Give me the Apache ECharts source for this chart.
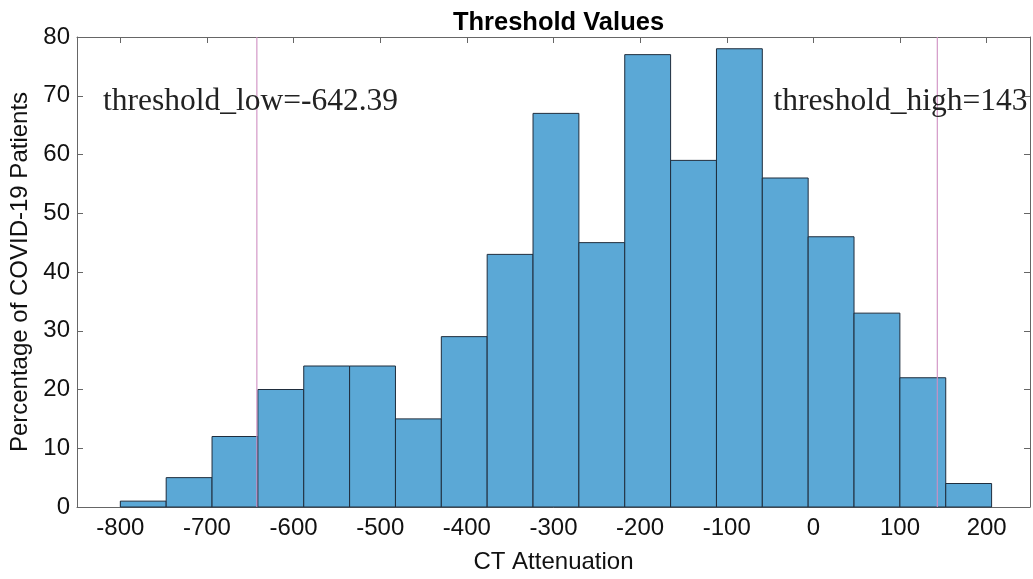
<!DOCTYPE html>
<html><head><meta charset="utf-8">
<script src="https://cdn.jsdelivr.net/npm/echarts@6/dist/echarts.min.js"></script>
<style>html,body{margin:0;padding:0;background:#fff}#c{width:1033px;height:579px}</style>
</head><body><div id="c"></div>
<script>
// Data
const binStart = -800;
const binWidth = 52.93;
const counts = [1, 5, 12, 20, 24, 24, 15, 29, 43, 67, 45, 77, 59, 78, 56, 46, 33, 22, 4];
const xTicks = [-800, -700, -600, -500, -400, -300, -200, -100, 0, 100, 200];
const yTicks = [0, 10, 20, 30, 40, 50, 60, 70, 80];
const thresholds = [-642.39, 143];
const labelLow = 'threshold_low=-642.39';
const labelHigh = 'threshold_high=143';

const bins = counts.map((c, i) => [binStart + i * binWidth, binStart + (i + 1) * binWidth, c]);

const chart = echarts.init(document.getElementById('c'));
const axisColor = '#666';
const font = 'Liberation Sans, Arial, sans-serif';
const xCommon = {
  type: 'value', min: -850, max: 250,
  axisLine: { show: true, onZero: false, lineStyle: { color: axisColor, width: 1 } },
  axisTick: { show: true, inside: true, length: 6, customValues: xTicks, lineStyle: { color: axisColor } },
  splitLine: { show: false }
};
const yCommon = {
  type: 'value', min: 0, max: 80, interval: 10,
  axisLine: { show: true, onZero: false, lineStyle: { color: axisColor, width: 1 } },
  axisTick: { show: true, inside: true, length: 6, lineStyle: { color: axisColor } },
  splitLine: { show: false }
};
chart.setOption({
  animation: false,
  title: {
    text: 'Threshold Values', left: 553.5, textAlign: 'center', top: 5,
    textStyle: { fontFamily: font, fontWeight: 'bold', fontSize: 25.5, color: '#000' }
  },
  grid: { left: 77, right: 3, top: 37, bottom: 71, containLabel: false },
  xAxis: [
    Object.assign({}, xCommon, {
      position: 'bottom',
      axisLabel: { show: true, customValues: xTicks, fontFamily: font, fontSize: 24, color: '#111', margin: 9 },
      name: 'CT Attenuation', nameLocation: 'middle', nameGap: 43,
      nameTextStyle: { fontFamily: font, fontSize: 24, color: '#111' }
    }),
    Object.assign({}, xCommon, { position: 'top', axisLabel: { show: false } })
  ],
  yAxis: [
    Object.assign({}, yCommon, {
      position: 'left',
      axisLabel: { show: true, fontFamily: font, fontSize: 24, color: '#111', margin: 7 },
      name: 'Percentage of COVID-19 Patients', nameLocation: 'middle', nameGap: 38,
      nameTextStyle: { fontFamily: font, fontSize: 24, color: '#111' }
    }),
    Object.assign({}, yCommon, { position: 'right', axisLabel: { show: false } })
  ],
  series: [
    {
      type: 'custom',
      xAxisIndex: 0, yAxisIndex: 0,
      data: bins,
      renderItem: function (params, api) {
        const p0 = api.coord([api.value(0), 0]);
        const p1 = api.coord([api.value(1), api.value(2)]);
        return {
          type: 'rect',
          shape: { x: p0[0], y: p1[1], width: p1[0] - p0[0], height: p0[1] - p1[1] },
          style: { fill: '#5ba8d6', stroke: '#1f2d3d', lineWidth: 1 }
        };
      },
      encode: { x: [0, 1], y: 2 },
      z: 2
    },
    {
      type: 'custom',
      xAxisIndex: 0, yAxisIndex: 0,
      data: thresholds.map(v => [v]),
      renderItem: function (params, api) {
        const a = api.coord([api.value(0), 0]);
        const b = api.coord([api.value(0), 80]);
        return {
          type: 'line',
          shape: { x1: a[0], y1: a[1], x2: b[0], y2: b[1] },
          style: { stroke: '#cf8fc2', lineWidth: 1.1 }
        };
      },
      encode: { x: 0 },
      z: 3
    }
  ]
});

const pLow = chart.convertToPixel({ xAxisIndex: 0, yAxisIndex: 0 }, [-820, 69]);
const pHigh = chart.convertToPixel({ xAxisIndex: 0, yAxisIndex: 0 }, [247, 69]);
chart.setOption({
  graphic: [
    { type: 'text', x: pLow[0], y: pLow[1], z: 10,
      style: { text: labelLow, font: '31.5px "Liberation Serif", "Times New Roman", serif', fill: '#222', textAlign: 'left', textVerticalAlign: 'middle' } },
    { type: 'text', x: pHigh[0], y: pHigh[1], z: 10,
      style: { text: labelHigh, font: '31.5px "Liberation Serif", "Times New Roman", serif', fill: '#222', textAlign: 'right', textVerticalAlign: 'middle' } }
  ]
});
</script>
</body></html>
